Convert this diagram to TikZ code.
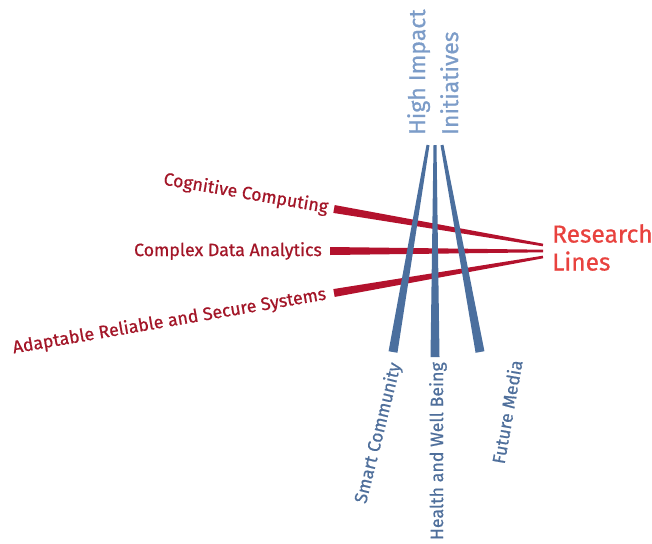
\documentclass[tikz,border=0pt]{standalone}
\usepackage{fontspec}
\setmainfont{Fira Sans}[FakeBold=0.7]
\usetikzlibrary{calc}
\definecolor{labred}{HTML}{A31628}
\definecolor{linered}{HTML}{B3122D}
\definecolor{resred}{HTML}{E8423E}
\definecolor{lineblue}{HTML}{4B6F9E}
\definecolor{labblue}{HTML}{4F6F9B}
\definecolor{headblue}{HTML}{7C9CC8}
\newcommand\taper[5]{%
  \fill[#1] ($(#2)!#4!90:(#3)$) -- ($(#2)!#4!-90:(#3)$) -- ($(#3)!#5!90:(#2)$) -- ($(#3)!#5!-90:(#2)$) -- cycle;}
\tikzset{
  redlab/.style={text=labred, font=\fontsize{17.8}{20}\selectfont, inner sep=0pt, anchor=east},
  bluelab/.style={text=labblue, font=\fontsize{17.8}{20}\selectfont, inner sep=0pt, anchor=east},
}
\begin{document}
\begin{tikzpicture}[x=1pt,y=-1pt]
\useasboundingbox (0,0) rectangle (652,543);
% red research lines
\coordinate (c1s) at (334,209); \coordinate (c1e) at (543,245);
\coordinate (c2s) at (330,251); \coordinate (c2e) at (543,251);
\coordinate (c3s) at (334,293); \coordinate (c3e) at (543,257);
\taper{linered}{c1s}{c1e}{4pt}{1.3pt}
\taper{linered}{c2s}{c2e}{4pt}{1.3pt}
\taper{linered}{c3s}{c3e}{4pt}{1.3pt}
% blue initiatives
\coordinate (b1s) at (393,352); \coordinate (b1e) at (428,145);
\coordinate (b2s) at (435,357); \coordinate (b2e) at (435,145);
\coordinate (b3s) at (480,352); \coordinate (b3e) at (442,145);
\taper{lineblue}{b1s}{b1e}{4.5pt}{1.5pt}
\taper{lineblue}{b2s}{b2e}{4.5pt}{1.5pt}
\taper{lineblue}{b3s}{b3e}{4.5pt}{1.5pt}
% labels
\node[redlab, rotate=-9.8] (l1) at ($(c1s)!-6pt!(c1e)$) {Cognitive Computing};
\node[redlab] (l2) at ($(c2s)!-8pt!(c2e)$) {Complex Data Analytics};
\node[redlab, rotate=9.8] (l3) at ($(c3s)!-8pt!(c3e)$) {Adaptable Reliable and Secure Systems};
\node[bluelab, rotate=76] (m1) at (396,363) {Smart Community};
\node[bluelab, rotate=90] (m2) at (438,362) {Health and Well Being};
\node[bluelab, rotate=80] (m3) at (516,360) {Future Media};
\node[text=resred, font=\fontsize{24.5}{28}\selectfont, inner sep=0pt, anchor=north west, align=left] (rl) at (552,224) {Research\\Lines};
\node[text=headblue, font=\fontsize{23}{33}\selectfont, inner sep=0pt, anchor=north west, align=left, rotate=90] (hi) at (407,135) {High Impact\\Initiatives};
\end{tikzpicture}
\end{document}
